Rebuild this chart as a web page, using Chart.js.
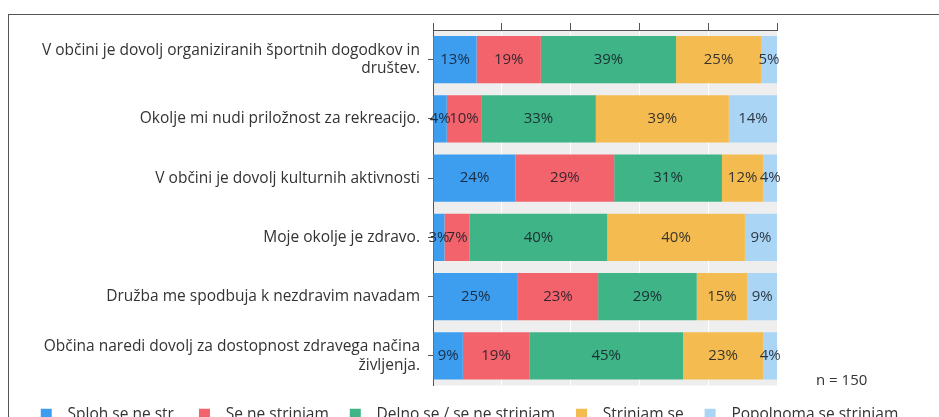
<!DOCTYPE html>
<html>
<head>
<meta charset="utf-8">
<script src="https://cdn.jsdelivr.net/npm/chart.js@4"></script>
<style>
  html, body { margin: 0; padding: 0; background: #fff; overflow: hidden; }
  #wrap { position: relative; width: 939px; height: 417px; overflow: hidden; }
  #frame { position: absolute; left: 8px; top: 14px; width: 940px; height: 420px;
           border-top: 1px solid #555; border-left: 1px solid #555; }
  #chart { position: absolute; left: 0; top: 0; }
  #n { position: absolute; left: 816px; top: 369px; font: 15px "Open Sans", sans-serif; color: #333; }
</style>
</head>
<body>
<div id="wrap">
  <div id="frame"></div>
  <canvas id="chart" width="939" height="432"></canvas>
  <div id="n">n = 150</div>
</div>
<script>
// statements, top to bottom
const categories = [
    ['V občini je dovolj organiziranih športnih dogodkov in', 'društev.'],
    'Okolje mi nudi priložnost za rekreacijo.',
    'V občini je dovolj kulturnih aktivnosti',
    'Moje okolje je zdravo.',
    'Družba me spodbuja k nezdravim navadam',
    ['Občina naredi dovolj za dostopnost zdravega načina', 'življenja.']
];

const seriesNames = ['Sploh se ne str.', 'Se ne strinjam', 'Delno se / se ne strinjam', 'Strinjam se', 'Popolnoma se strinjam'];

// shares in % (n = 150)
const sploh     = [12.67, 4.00, 24.00, 3.33, 24.67, 8.67];
const seNe      = [18.67, 10.00, 28.67, 7.33, 23.33, 19.33];
const delno     = [39.33, 33.33, 31.33, 40.00, 28.67, 44.67];
const strinjam  = [24.67, 38.67, 12.00, 40.00, 14.67, 23.33];
const popolnoma = [4.67, 14.00, 4.00, 9.33, 8.67, 4.00];

const xTicks = [0, 20, 40, 60, 80, 100];

const colors = ['#3d9ef0', '#f2636b', '#3fb487', '#f4bc50', '#aad5f5'];
const FONT = '"Open Sans", sans-serif';

const plotBg = {
    id: 'plotBg',
    beforeDraw(chart) {
        const { ctx, chartArea: a } = chart;
        ctx.save();
        ctx.fillStyle = '#eeeeee';
        ctx.fillRect(a.left, a.top, a.right - a.left, a.bottom - a.top);
        ctx.restore();
    }
};

// centered % labels on each segment
const barLabels = {
    id: 'barLabels',
    afterDatasetsDraw(chart) {
        const ctx = chart.ctx;
        ctx.save();
        ctx.font = '15px ' + FONT;
        ctx.fillStyle = 'rgba(20,25,35,0.85)';
        ctx.textAlign = 'center';
        ctx.textBaseline = 'middle';
        chart.data.datasets.forEach((ds, i) => {
            chart.getDatasetMeta(i).data.forEach((bar, j) => {
                const p = bar.getCenterPoint();
                ctx.fillText(Math.round(ds.data[j]) + '%', p.x, p.y);
            });
        });
        ctx.restore();
    }
};

const ctx = document.getElementById('chart').getContext('2d');
new Chart(ctx, {
    type: 'bar',
    data: {
        labels: categories,
        datasets: [sploh, seNe, delno, strinjam, popolnoma].map((d, i) => ({
            label: seriesNames[i],
            data: d,
            backgroundColor: colors[i],
            borderWidth: 0,
            categoryPercentage: 0.8,
            barPercentage: 1
        }))
    },
    options: {
        indexAxis: 'y',
        responsive: false,
        animation: false,
        layout: { padding: { top: 23, right: 0, left: 0, bottom: 0 } },
        scales: {
            x: {
                position: 'top',
                stacked: true,
                min: 0,
                max: 100,
                afterBuildTicks: scale => { scale.ticks = xTicks.map(v => ({ value: v })); },
                ticks: { display: false },
                grid: { color: '#ffffff', tickColor: '#555', tickLength: 7, lineWidth: 1 },
                border: { color: '#555' },
                afterFit: scale => { scale.height = 7; }
            },
            y: {
                stacked: true,
                afterFit: scale => { scale.width = 433; },
                ticks: { color: '#333', font: { family: FONT, size: 15.5, lineHeight: 1.2 }, padding: 8 },
                grid: { drawOnChartArea: false, offset: false, tickLength: 5, tickColor: '#555' },
                border: { color: '#555' }
            },
            // empty space right of the bars (keeps the legend on one row)
            yRight: {
                type: 'category',
                position: 'right',
                ticks: { display: false },
                grid: { display: false },
                border: { display: false },
                afterFit: scale => { scale.width = 162; }
            }
        },
        plugins: {
            legend: {
                position: 'bottom',
                labels: {
                    color: '#333',
                    font: { family: FONT, size: 15.5 },
                    boxWidth: 11,
                    boxHeight: 11,
                    padding: 21,
                    generateLabels: chart => Chart.defaults.plugins.legend.labels.generateLabels(chart)
                        .map(l => ({ ...l, text: '  ' + l.text }))
                }
            },
            tooltip: { enabled: false }
        }
    },
    plugins: [plotBg, barLabels]
});
</script>
</body>
</html>
